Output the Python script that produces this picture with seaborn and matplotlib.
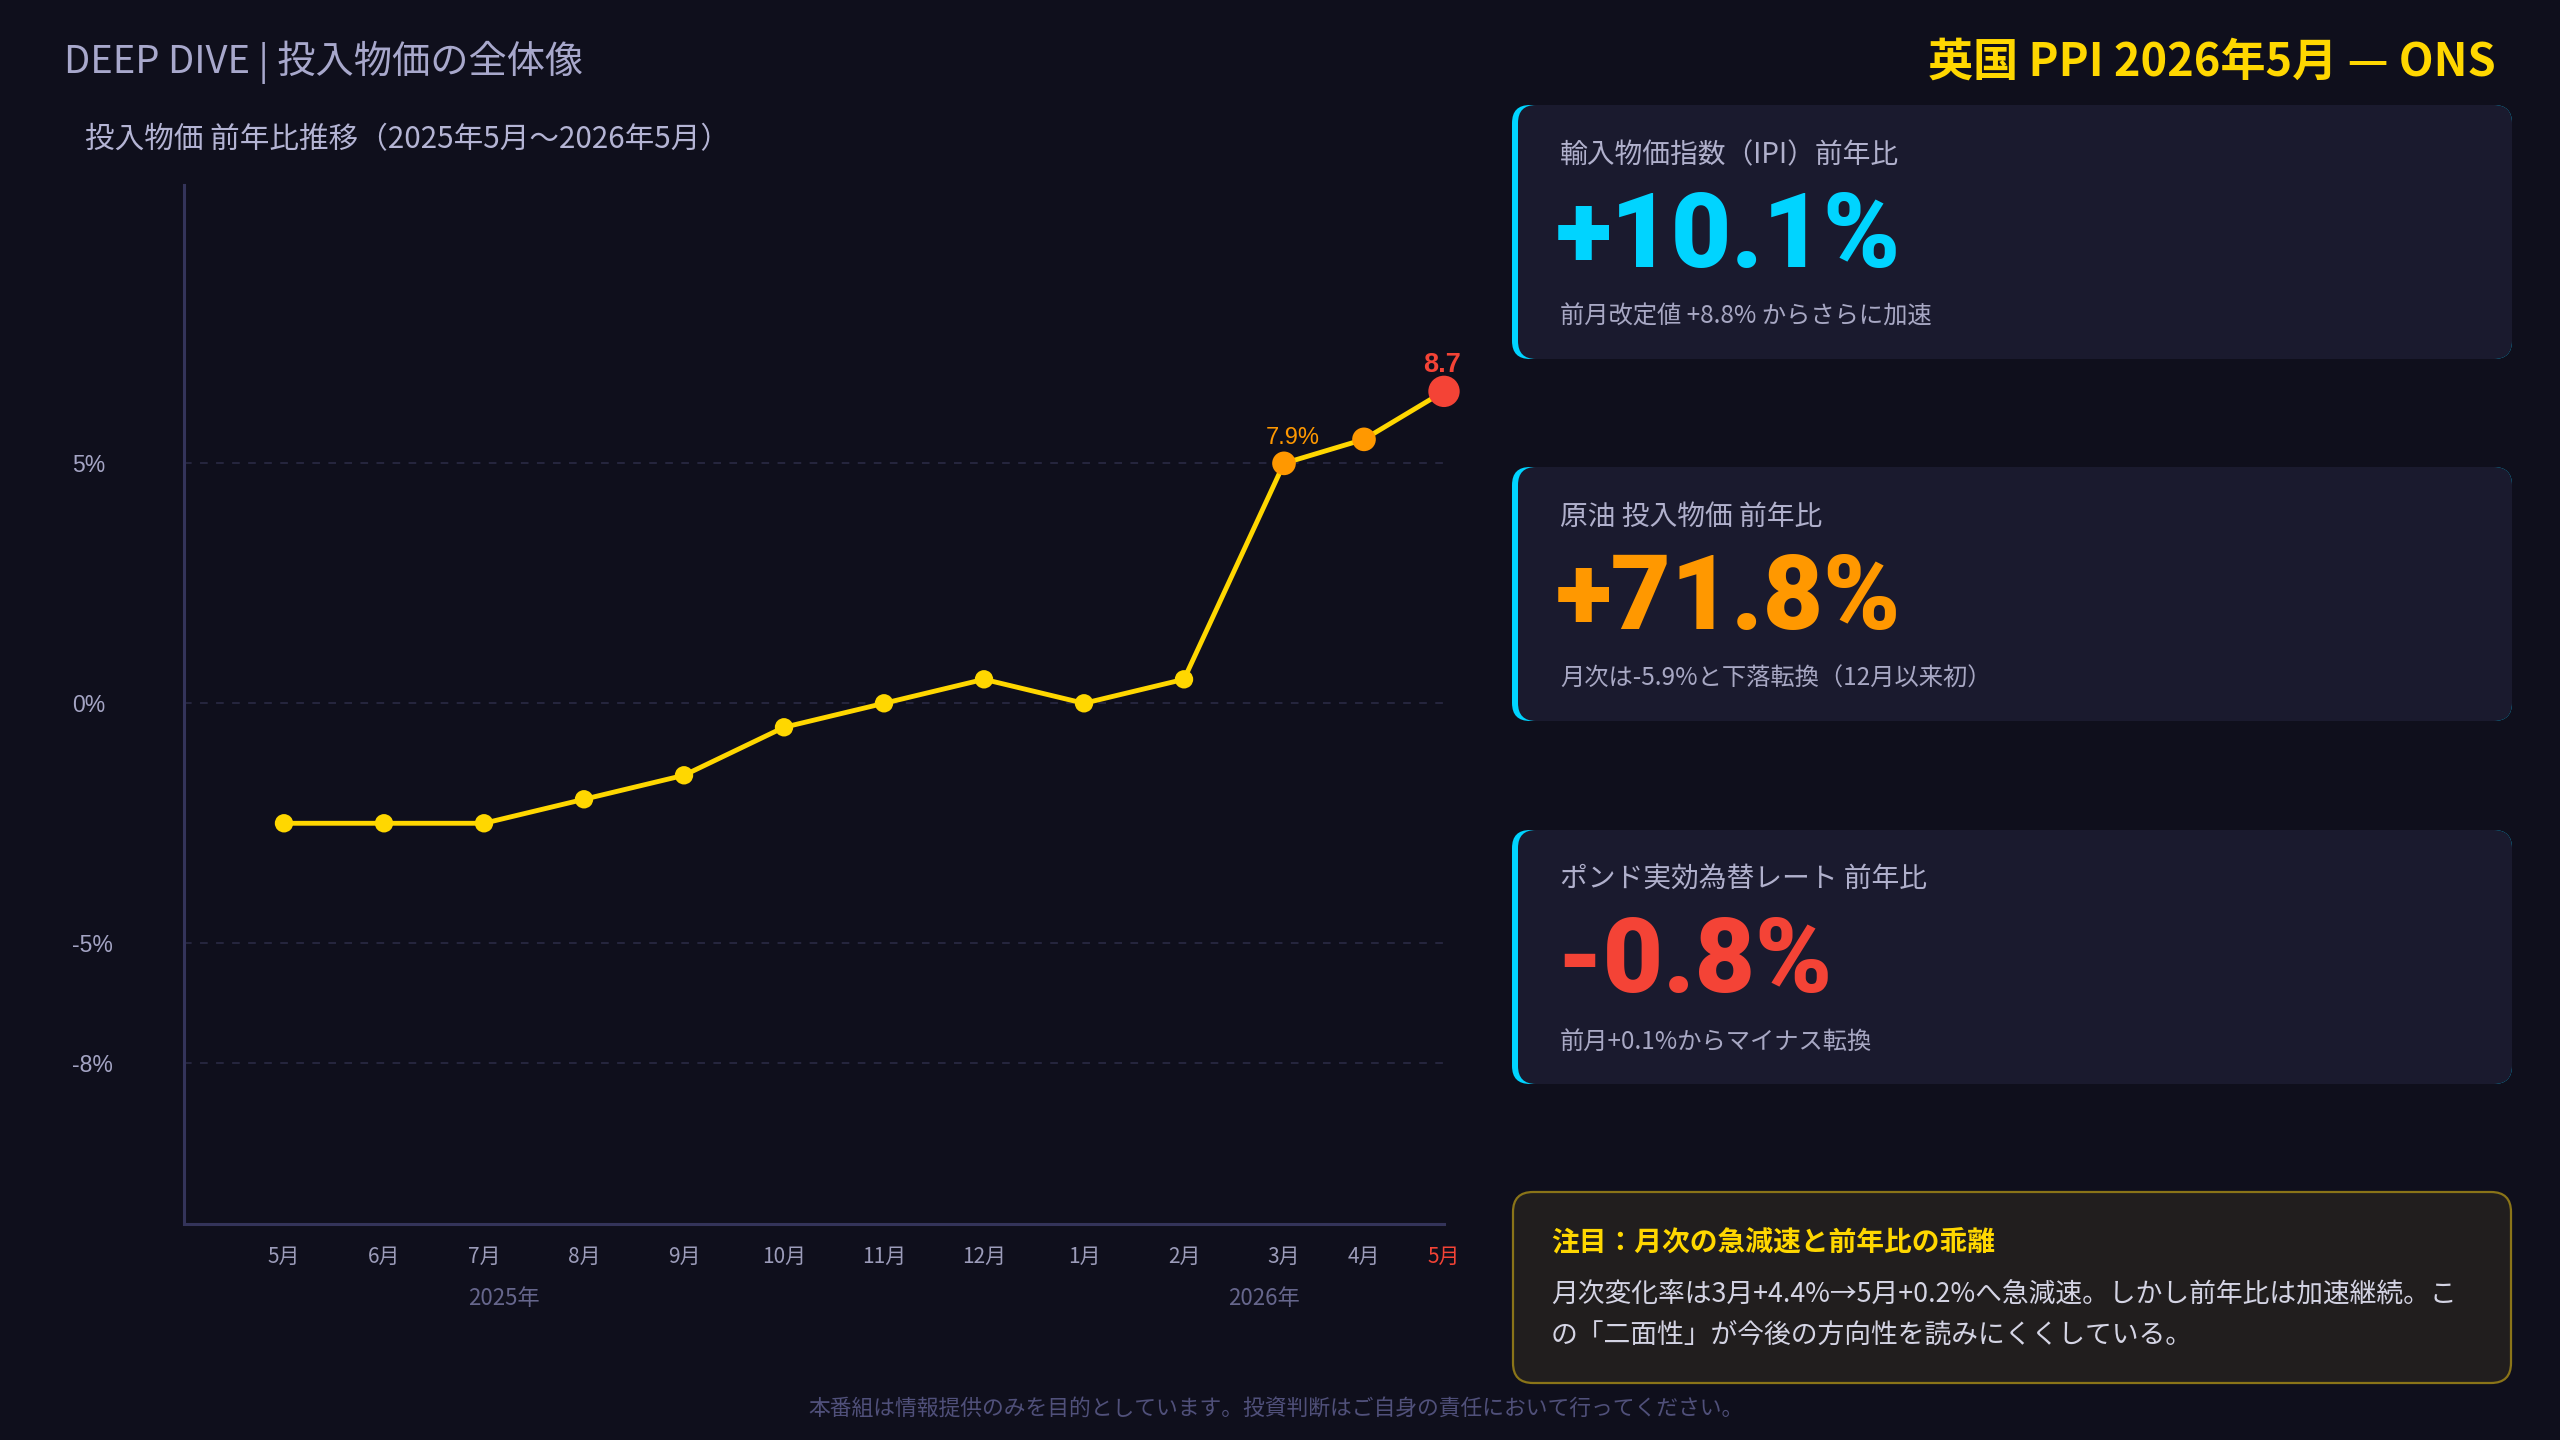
import matplotlib
matplotlib.use("Agg")
import matplotlib.pyplot as plt
import numpy as np
import pandas as pd
import seaborn as sns
from matplotlib.patches import FancyBboxPatch
from matplotlib.transforms import Affine2D, Bbox, TransformedBbox

# ---------------- data ----------------
months = ["5月", "6月", "7月", "8月", "9月", "10月", "11月", "12月",
          "1月", "2月", "3月", "4月", "5月"]
month_pos = [0, 1, 2, 3, 4, 5, 6, 7, 8, 9, 10, 10.8, 11.6]
yoy = [-2.5, -2.5, -2.5, -2.0, -1.5, -0.5, 0.0, 0.5, 0.0, 0.5, 5.0, 5.5, 6.5]
point_group = ["通常"] * 10 + ["直近", "直近", "最新"]
ytick_vals = [5, 0, -5, -7.5]
ytick_labels = ["5%", "0%", "-5%", "-8%"]
year_labels = ["2025年", "2026年"]
year_pos = [2.2, 9.8]
mar_label = "7.9%"
latest_label = "8.7%"

title_left = "DEEP DIVE | 投入物価の全体像"
title_right = "英国 PPI 2026年5月 — ONS"
chart_title = "投入物価 前年比推移（2025年5月〜2026年5月）"
card_titles = ["輸入物価指数（IPI）前年比", "原油 投入物価 前年比", "ポンド実効為替レート 前年比"]
card_values = ["+10.1%", "+71.8%", "-0.8%"]
card_notes = ["前月改定値 +8.8% からさらに加速",
              "月次は-5.9%と下落転換（12月以来初）",
              "前月+0.1%からマイナス転換"]
note_title = "注目：月次の急減速と前年比の乖離"
note_lines = ["月次変化率は3月+4.4%→5月+0.2%へ急減速。しかし前年比は加速継続。こ",
              "の「二面性」が今後の方向性を読みにくくしている。"]
footer = "本番組は情報提供のみを目的としています。投資判断はご自身の責任において行ってください。"

# ---------------- style ----------------
BG = "#0f0f1c"
CARD = "#1a1a2e"
CYAN = "#00d4ff"
YELLOW = "#ffd700"
ORANGE = "#ff9800"
RED = "#f44336"
GRID = "#2c2c48"
SPINE = "#34345a"
card_value_colors = [CYAN, ORANGE, RED]

W, H = 2560, 1440
sns.set_theme(style="dark")
plt.rcParams["font.family"] = ["Noto Sans CJK JP", "DejaVu Sans"]

fig = plt.figure(figsize=(W / 100, H / 100), dpi=100, facecolor=BG)
px = Affine2D().scale(1, -1).translate(0, H)  # top-left pixel coords

# ---------------- chart ----------------
ax = fig.add_axes([184 / W, 1 - 1224 / H, (1444 - 184) / W, (1224 - 185) / H])
ax.set_facecolor(BG)

df = pd.DataFrame({"x": month_pos, "yoy": yoy, "grp": point_group})

for v in ytick_vals:
    ax.axhline(v, color=GRID, lw=1.1, ls=(0, (5, 5.5)), zorder=1)

sns.lineplot(data=df, x="x", y="yoy", color=YELLOW, lw=3.5, ax=ax, zorder=3,
             sort=False)
sns.scatterplot(data=df, x="x", y="yoy", hue="grp",
                palette={"通常": YELLOW, "直近": ORANGE, "最新": RED},
                size="grp", sizes={"通常": 175, "直近": 290, "最新": 510},
                legend=False, linewidth=0, ax=ax, zorder=4, clip_on=False)

ax.set_xlim(-1, 11.6)
ax.set_ylim(-10.85, 10.8)
ax.set_xlabel("")
ax.set_ylabel("")

for s in ["top", "right"]:
    ax.spines[s].set_visible(False)
for s in ["left", "bottom"]:
    ax.spines[s].set_visible(True)
    ax.spines[s].set_color(SPINE)
    ax.spines[s].set_linewidth(2.2)

ax.set_yticks(ytick_vals, ytick_labels)
ax.tick_params(axis="y", length=0, pad=80.5, labelsize=16.5, labelcolor="#a4a4c4")
for t in ax.get_yticklabels():
    t.set_ha("left")
    t.set_fontfamily(["Liberation Sans", "DejaVu Sans"])

ax.set_xticks(month_pos, months)
ax.tick_params(axis="x", length=0, pad=16, labelsize=15, labelcolor="#9c9cba")
ax.get_xticklabels()[-1].set_color(RED)

for lab, xp in zip(year_labels, year_pos):
    ax.text(xp, -0.0715, lab, transform=ax.get_xaxis_transform(), ha="center",
            va="center", fontsize=16, color="#66668c")

ax.annotate(mar_label, (month_pos[10], yoy[10]), xytext=(6.5, 18),
            textcoords="offset points", ha="center", va="center", fontsize=17,
            color=ORANGE, fontfamily=["Liberation Sans", "DejaVu Sans"], zorder=5)
t_latest = ax.annotate(latest_label, (month_pos[-1], yoy[-1]), xytext=(7, 19),
                       textcoords="offset points", ha="center", va="center",
                       fontsize=19.5, fontweight="bold", color=RED,
                       fontfamily=["Liberation Sans", "DejaVu Sans"], zorder=5,
                       annotation_clip=False)
t_latest.set_clip_box(TransformedBbox(Bbox.from_extents(0, 0, 1461 / W, 1),
                                      fig.transFigure))
t_latest.set_clip_on(True)

# ---------------- header texts ----------------
fig.text(64, 62, title_left, transform=px, ha="left", va="center",
         fontsize=27.5, color="#a8a8cc")
fig.text(2496, 63, title_right, transform=px, ha="right", va="center",
         fontsize=32.5, fontweight="bold", color=YELLOW)
fig.text(85, 140, chart_title, transform=px, ha="left", va="center",
         fontsize=21.3, color="#b4b4d4")

# ---------------- cards ----------------
card_tops = [105, 467, 830]
for top, ttl, val, note, vc in zip(card_tops, card_titles, card_values,
                                     card_notes, card_value_colors):
    fig.add_artist(FancyBboxPatch((1512, top), 1000, 254,
                                  boxstyle="round,pad=0,rounding_size=18",
                                  fc=CYAN, ec="none", transform=px))
    fig.add_artist(FancyBboxPatch((1518, top), 994, 254,
                                  boxstyle="round,pad=0,rounding_size=18",
                                  fc=CARD, ec="none", transform=px))
    fig.text(1560, top + 50, ttl, transform=px, ha="left", va="center",
             fontsize=20, color="#b0b0cc")
    fig.text(1556, top + 162, val, transform=px, ha="left", va="baseline",
             fontsize=75, fontweight="black", color=vc,
             fontfamily=["Roboto", "DejaVu Sans"])
    fig.text(1560, top + 212, note, transform=px, ha="left", va="center",
             fontsize=17.5, color="#a8a8c4")

# ---------------- note box ----------------
fig.add_artist(FancyBboxPatch((1513, 1192), 998, 191,
                              boxstyle="round,pad=0,rounding_size=20",
                              fc="#211e1e", ec="#8a7418", lw=1.6, transform=px))
fig.text(1551, 1243, note_title, transform=px, ha="left", va="center",
         fontsize=20, fontweight="bold", color=YELLOW)
for i, line in enumerate(note_lines):
    fig.text(1551, 1295 + 41 * i, line, transform=px, ha="left", va="center",
             fontsize=19.3, color="#d4d4e4")

# ---------------- footer ----------------
fig.text(1276, 1409, footer, transform=px, ha="center", va="center",
         fontsize=15.7, color="#50507a")

fig.savefig("out.png", dpi=100, facecolor=BG)
